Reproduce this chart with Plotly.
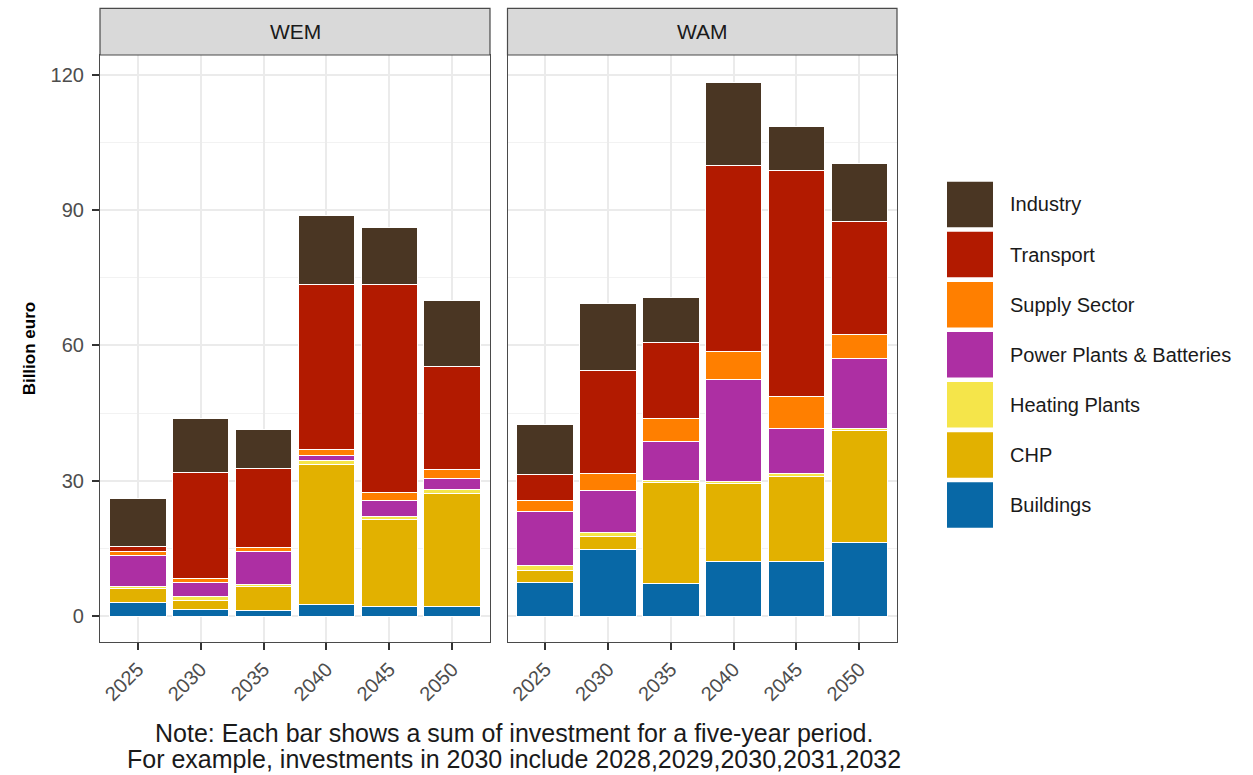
import plotly.graph_objects as go

# Periods (each bar sums five years of investment)
years = ["2025", "2030", "2035", "2040", "2045", "2050"]
scenarios = ["WEM", "WAM"]

# Stacking order from bottom to top
sectors = ["Buildings", "CHP", "Heating Plants", "Power Plants & Batteries",
           "Supply Sector", "Transport", "Industry"]
colors = ["#0868a6", "#e2b100", "#f5e54a", "#ad2fa3", "#ff7f00", "#b21a00", "#4a3623"]

# WEM scenario, billion euro
wem_buildings = [3.0, 1.5, 1.3, 2.6, 2.1, 2.1]
wem_chp = [3.0, 2.0, 5.2, 31.1, 19.2, 25.0]
wem_heating = [0.5, 0.8, 0.4, 0.8, 0.7, 1.0]
wem_power = [7.0, 3.2, 7.5, 1.1, 3.7, 2.4]
wem_supply = [0.8, 0.9, 0.7, 1.4, 1.7, 1.9]
wem_transport = [1.2, 23.4, 17.7, 36.6, 46.2, 22.9]
wem_industry = [10.6, 12.1, 8.6, 15.2, 12.6, 14.7]

# WAM scenario, billion euro
wam_buildings = [7.4, 14.8, 7.1, 12.1, 12.0, 16.4]
wam_chp = [2.8, 2.8, 22.4, 17.2, 19.0, 24.7]
wam_heating = [0.9, 0.9, 0.6, 0.6, 0.5, 0.5]
wam_power = [12.1, 9.4, 8.7, 22.6, 10.0, 15.5]
wam_supply = [2.4, 3.8, 5.0, 6.2, 7.1, 5.4]
wam_transport = [5.7, 22.8, 16.9, 41.1, 50.3, 25.0]
wam_industry = [11.1, 14.9, 9.9, 18.6, 9.6, 12.8]

y_ticks = [0, 30, 60, 90, 120]
y_minor = [15, 45, 75, 105]

note_lines = ["Note: Each bar shows a sum of investment for a five-year period.",
              "For example, investments in 2030 include 2028,2029,2030,2031,2032"]

W, H = 1253, 775
FONT = "Liberation Sans, Arial, Helvetica, sans-serif"


def fx(px):
    return px / W


def fy(py):
    return 1 - py / H


series = {
    "WEM": [wem_buildings, wem_chp, wem_heating, wem_power, wem_supply, wem_transport, wem_industry],
    "WAM": [wam_buildings, wam_chp, wam_heating, wam_power, wam_supply, wam_transport, wam_industry],
}

fig = go.Figure()
for k, scen in enumerate(scenarios):
    xa = "x" if k == 0 else "x2"
    ya = "y" if k == 0 else "y2"
    for name, col, vals in zip(sectors, colors, series[scen]):
        fig.add_trace(go.Bar(
            x=years, y=vals, name=name, xaxis=xa, yaxis=ya,
            marker=dict(color=col, line=dict(color="white", width=1)),
            showlegend=False,
        ))

# panel geometry in pixels
panels = [(100, 490), (507.5, 897)]
panel_top, panel_bottom = 55, 641.7
strip_top = 8.3

grid_col = "#ebebeb"
axis_common = dict(showline=True, mirror=True, linecolor="#4a4a4a", linewidth=1.2,
                   zeroline=False)

xaxis_cfg = dict(type="category", categoryorder="array", categoryarray=years,
                 range=[-0.6, 5.6], showgrid=True, gridcolor=grid_col, gridwidth=1.5,
                 ticks="outside", ticklen=7, tickwidth=1.5, tickcolor="#333333",
                 tickangle=-45, tickfont=dict(family=FONT, size=20, color="#4d4d4d"),
                 **axis_common)
yaxis_cfg = dict(range=[-5.7, 124.4], tickvals=y_ticks, showgrid=True,
                 gridcolor=grid_col, gridwidth=1.5,
                 minor=dict(tickvals=y_minor, showgrid=True, gridcolor="#f2f2f2",
                            gridwidth=1, ticks=""),
                 **axis_common)

fig.update_layout(
    width=W, height=H, autosize=False,
    margin=dict(l=0, r=0, t=0, b=0),
    paper_bgcolor="white", plot_bgcolor="white",
    barmode="stack", bargap=0.1,
    font=dict(family=FONT, color="#1a1a1a"),
    showlegend=False,
    xaxis=dict(domain=[fx(panels[0][0]), fx(panels[0][1])], anchor="y", **xaxis_cfg),
    xaxis2=dict(domain=[fx(panels[1][0]), fx(panels[1][1])], anchor="y2", **xaxis_cfg),
    yaxis=dict(domain=[fy(panel_bottom), fy(panel_top)], anchor="x",
               ticks="outside", ticklen=7, tickwidth=1.5, tickcolor="#333333",
               ticklabelstandoff=4,
               tickfont=dict(family=FONT, size=20, color="#4d4d4d"), **yaxis_cfg),
    yaxis2=dict(domain=[fy(panel_bottom), fy(panel_top)], anchor="x2", matches="y",
                showticklabels=False, ticks="", **yaxis_cfg),
)

shapes = []
annotations = []

# facet strips
for (x0, x1), scen in zip(panels, scenarios):
    shapes.append(dict(type="rect", xref="paper", yref="paper",
                       x0=fx(x0), x1=fx(x1), y0=fy(panel_top), y1=fy(strip_top),
                       fillcolor="#d9d9d9", line=dict(color="#4a4a4a", width=1.2),
                       layer="above"))
    annotations.append(dict(text=scen, xref="paper", yref="paper",
                            x=fx((x0 + x1) / 2), y=fy((strip_top + panel_top) / 2),
                            xanchor="center", yanchor="middle", showarrow=False,
                            font=dict(family=FONT, size=21, color="#1a1a1a")))

# y axis title
annotations.append(dict(text="<b>Billion euro</b>", xref="paper", yref="paper",
                        x=fx(29), y=fy((panel_top + panel_bottom) / 2), textangle=-90,
                        xanchor="center", yanchor="middle", showarrow=False,
                        font=dict(family=FONT, size=17, color="#000000")))

# legend: Industry on top down to Buildings
key_x0, key_x1 = 947, 993
key_top0, key_step, key_h = 181.7, 50.1, 45.5
for i, idx in enumerate(range(len(sectors) - 1, -1, -1)):
    top = key_top0 + i * key_step
    shapes.append(dict(type="rect", xref="paper", yref="paper",
                       x0=fx(key_x0), x1=fx(key_x1), y0=fy(top + key_h), y1=fy(top),
                       fillcolor=colors[idx], line=dict(width=0)))
    annotations.append(dict(text=sectors[idx], xref="paper", yref="paper",
                            x=fx(1008), y=fy(top + key_h / 2),
                            xanchor="left", yanchor="middle", showarrow=False,
                            font=dict(family=FONT, size=20, color="#1a1a1a")))

# footnote
for line, cy in zip(note_lines, [733, 759]):
    annotations.append(dict(text=line, xref="paper", yref="paper",
                            x=fx(514), y=fy(cy), xanchor="center", yanchor="middle",
                            showarrow=False,
                            font=dict(family=FONT, size=25, color="#1a1a1a")))

fig.update_layout(shapes=shapes, annotations=annotations)
fig.write_html("out.html")
